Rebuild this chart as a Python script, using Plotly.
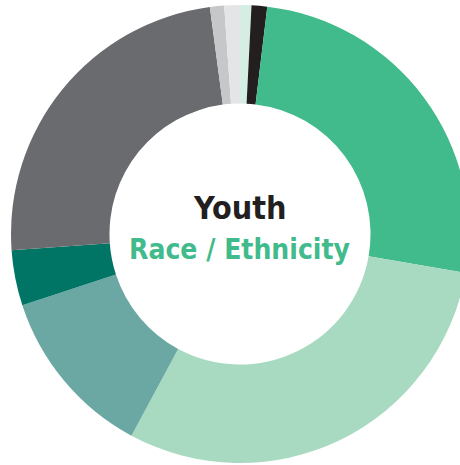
import plotly.graph_objects as go

labels = ["Multiracial", "Black", "White", "Hispanic / Latino", "Asian",
          "Native Hawaiian / Pacific Islander", "Other", "American Indian", "Unknown"]
values = [0.8, 1.1, 25.8, 30.1, 12.1, 3.9, 24.0, 1.0, 1.1]
colors = ["#D6EDE3", "#231F20", "#41BB8B", "#A8D9C1", "#6BA8A3",
          "#007565", "#6A6B6E", "#C5C7C9", "#E3E5E7"]

W, H = 470, 465
cx, cy, R = 240, 234, 229

fig = go.Figure(go.Pie(
    labels=labels, values=values, sort=False, direction="clockwise", rotation=0,
    hole=0.57, textinfo="none", hoverinfo="label+percent",
    marker=dict(colors=colors, line=dict(width=0)),
    domain=dict(x=[(cx - R) / W, (cx + R) / W], y=[(H - cy - R) / H, (H - cy + R) / H]),
    showlegend=False,
))

fig.add_annotation(x=cx / W, y=1 - 208 / H, xref="paper", yref="paper",
                   text="<b>Youth</b>", showarrow=False,
                   font=dict(family="DejaVu Sans Condensed, sans-serif", size=32, color="#231F20"))
fig.add_annotation(x=cx / W, y=1 - 250 / H, xref="paper", yref="paper",
                   text="<b>Race / Ethnicity</b>", showarrow=False,
                   font=dict(family="DejaVu Sans Condensed, sans-serif", size=28, color="#41BB8B"))

fig.update_layout(width=W, height=H, margin=dict(l=0, r=0, t=0, b=0),
                  paper_bgcolor="white", plot_bgcolor="white")
fig.write_html("out.html", config={"displayModeBar": False},
               post_script="document.body.style.margin='0';document.body.style.overflow='hidden';"
                           "document.documentElement.style.overflow='hidden';")
